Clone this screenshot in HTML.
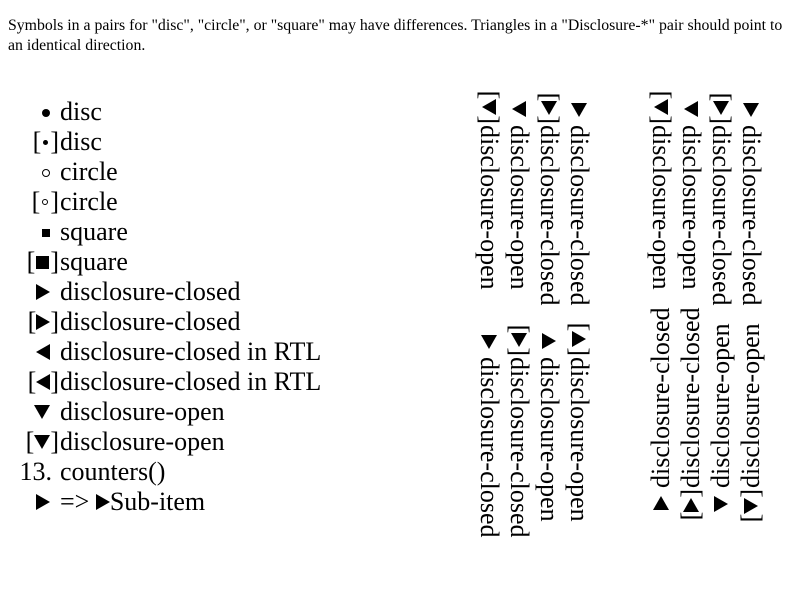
<!DOCTYPE html>
<html><head><meta charset="utf-8"><style>
body{margin:0;width:800px;height:600px;background:#fff;position:relative;overflow:hidden;font-family:"Liberation Serif",serif;color:#000}
.hd{position:absolute;left:8px;top:16px;font-size:15.8px;line-height:20px;width:785px}
.l{position:absolute;left:0;height:30px;line-height:30px;font-size:26px;white-space:nowrap}
.m{display:inline-block;width:50px;text-align:right;padding-right:10px}
.mb{display:inline-block;width:59px;text-align:right;padding-right:1px}
.v{position:absolute;height:30px;line-height:30px;font-size:26px;white-space:nowrap;transform-origin:0 0}
.cw{transform:rotate(90deg)}
.ccw{transform:rotate(-90deg)}
.vm{display:inline-block;width:27px;text-align:right;padding-right:8px}
.vmb{display:inline-block;width:34px;text-align:right;padding-right:1px}
.t{display:inline-block;width:0;height:0;border:0 solid transparent;vertical-align:0}
.tr{border-top-width:8px;border-bottom-width:8px;border-left:14px solid #000}
.tl{border-top-width:8px;border-bottom-width:8px;border-right:14px solid #000}
.td{border-left-width:8px;border-right-width:8px;border-top:14px solid #000;vertical-align:1px}
.tu{border-left-width:8px;border-right-width:8px;border-bottom:14px solid #000;vertical-align:1px}
.dot{display:inline-block;width:8px;height:8px;border-radius:50%;background:#000;vertical-align:3px}
.sdot{display:inline-block;width:5px;height:5px;border-radius:50%;background:#000;vertical-align:5px;margin:0 2px}
.circ{display:inline-block;width:6px;height:6px;border-radius:50%;border:1px solid #000;vertical-align:3px}
.scirc{display:inline-block;width:4px;height:4px;border-radius:50%;border:1px solid #000;vertical-align:5px;margin:0 2px}
.sq{display:inline-block;width:8px;height:8px;background:#000;vertical-align:3px}
.bsq{display:inline-block;width:13px;height:13px;background:#000;vertical-align:1px;margin:0 1px}
</style></head><body>
<div class="hd">Symbols in a pairs for "disc", "circle", or "square" may have differences. Triangles in a "Disclosure-*" pair should point to an identical direction.</div>

<div class="l" style="top:97px"><span class="m"><span class="dot"></span></span>disc</div>
<div class="l" style="top:127px"><span class="mb">[<span class="sdot"></span>]</span>disc</div>
<div class="l" style="top:157px"><span class="m"><span class="circ"></span></span>circle</div>
<div class="l" style="top:187px"><span class="mb">[<span class="scirc"></span>]</span>circle</div>
<div class="l" style="top:217px"><span class="m"><span class="sq"></span></span>square</div>
<div class="l" style="top:247px"><span class="mb">[<span class="bsq"></span>]</span>square</div>
<div class="l" style="top:277px"><span class="m"><span class="t tr"></span></span>disclosure-closed</div>
<div class="l" style="top:307px"><span class="mb">[<span class="t tr"></span>]</span>disclosure-closed</div>
<div class="l" style="top:337px"><span class="m"><span class="t tl"></span></span>disclosure-closed in RTL</div>
<div class="l" style="top:367px"><span class="mb">[<span class="t tl"></span>]</span>disclosure-closed in RTL</div>
<div class="l" style="top:397px"><span class="m"><span class="t td"></span></span>disclosure-open</div>
<div class="l" style="top:427px"><span class="mb">[<span class="t td"></span>]</span>disclosure-open</div>
<div class="l" style="top:457px"><span class="m" style="padding-right:8px;width:52px">13.</span>counters()</div>
<div class="l" style="top:487px"><span class="m"><span class="t tr"></span></span>=&gt; <span class="t tr"></span>Sub-item</div>

<div class="v cw" style="left:594px;top:90px"><span class="vm"><span class="t tr"></span></span>disclosure-closed</div>
<div class="v cw" style="left:564px;top:90px"><span class="vmb">[<span class="t tr"></span>]</span>disclosure-closed</div>
<div class="v cw" style="left:534px;top:90px"><span class="vm"><span class="t td"></span></span>disclosure-open</div>
<div class="v cw" style="left:504px;top:90px"><span class="vmb">[<span class="t td"></span>]</span>disclosure-open</div>

<div class="v cw" style="left:594px;top:322px"><span class="vmb">[<span class="t tu"></span>]</span>disclosure-open</div>
<div class="v cw" style="left:564px;top:322px"><span class="vm"><span class="t tu"></span></span>disclosure-open</div>
<div class="v cw" style="left:534px;top:322px"><span class="vmb">[<span class="t tr"></span>]</span>disclosure-closed</div>
<div class="v cw" style="left:504px;top:322px"><span class="vm"><span class="t tr"></span></span>disclosure-closed</div>

<div class="v cw" style="left:766px;top:90px"><span class="vm"><span class="t tr"></span></span>disclosure-closed</div>
<div class="v cw" style="left:736px;top:90px"><span class="vmb">[<span class="t tr"></span>]</span>disclosure-closed</div>
<div class="v cw" style="left:706px;top:90px"><span class="vm"><span class="t td"></span></span>disclosure-open</div>
<div class="v cw" style="left:676px;top:90px"><span class="vmb">[<span class="t td"></span>]</span>disclosure-open</div>

<div class="v ccw" style="left:736px;top:523px"><span class="vmb">[<span class="t td"></span>]</span>disclosure-open</div>
<div class="v ccw" style="left:706px;top:523px"><span class="vm"><span class="t td"></span></span>disclosure-open</div>
<div class="v ccw" style="left:676px;top:523px"><span class="vmb">[<span class="t tr"></span>]</span>disclosure-closed</div>
<div class="v ccw" style="left:646px;top:523px"><span class="vm"><span class="t tr"></span></span>disclosure-closed</div>
</body></html>
